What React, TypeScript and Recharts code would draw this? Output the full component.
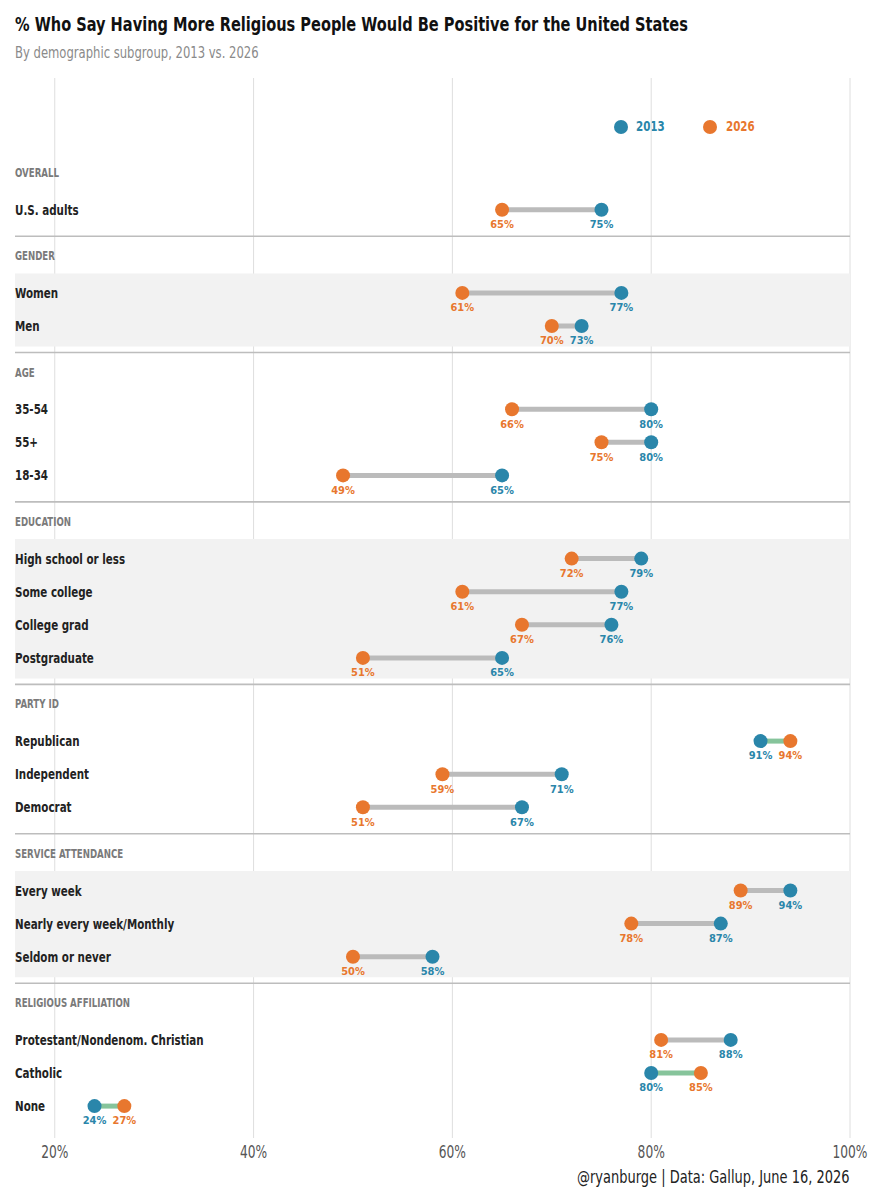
import { ComposedChart, Scatter, XAxis, YAxis, ZAxis, CartesianGrid, ReferenceArea, ReferenceLine, LabelList } from 'recharts'

const groups = ['OVERALL', 'GENDER', 'AGE', 'EDUCATION', 'PARTY ID', 'SERVICE ATTENDANCE', 'RELIGIOUS AFFILIATION']

const subgroups = [
  'U.S. adults',
  'Women', 'Men',
  '35-54', '55+', '18-34',
  'High school or less', 'Some college', 'College grad', 'Postgraduate',
  'Republican', 'Independent', 'Democrat',
  'Every week', 'Nearly every week/Monthly', 'Seldom or never',
  'Protestant/Nondenom. Christian', 'Catholic', 'None',
]

const subgroupGroup = [
  'OVERALL',
  'GENDER', 'GENDER',
  'AGE', 'AGE', 'AGE',
  'EDUCATION', 'EDUCATION', 'EDUCATION', 'EDUCATION',
  'PARTY ID', 'PARTY ID', 'PARTY ID',
  'SERVICE ATTENDANCE', 'SERVICE ATTENDANCE', 'SERVICE ATTENDANCE',
  'RELIGIOUS AFFILIATION', 'RELIGIOUS AFFILIATION', 'RELIGIOUS AFFILIATION',
]

const pct2013 = [75, 77, 73, 80, 80, 65, 79, 77, 76, 65, 91, 71, 67, 94, 87, 58, 88, 80, 24]
const pct2026 = [65, 61, 70, 66, 75, 49, 72, 61, 67, 51, 94, 59, 51, 89, 78, 50, 81, 85, 27]

const xTicks = [20, 40, 60, 80, 100]

const BLUE = '#2A86AA'
const ORANGE = '#E8772E'
const GRAY_SEG = '#BBBBBB'
const GREEN_SEG = '#86C49B'
const FONT = '"DejaVu Sans Condensed", "DejaVu Sans", sans-serif'

// vertical layout, in px below the top of the plot area
const PLOT_H = 1060
const FIRST_HEADER = 95
const HEAD_TO_ITEM = 36.7
const ITEM_STEP = 33.1
const ITEM_TO_SEP = 26.5
const SEP_TO_HEAD = 20

const rowY: number[] = []
const headerY: number[] = []
const seps: number[] = []
const bands: [number, number][] = []
let cursor = FIRST_HEADER
groups.forEach((g, gi) => {
  headerY.push(cursor)
  const idx = subgroups.map((_, i) => i).filter((i) => subgroupGroup[i] === g)
  idx.forEach((i, k) => {
    rowY[i] = cursor + HEAD_TO_ITEM + k * ITEM_STEP
  })
  const first = rowY[idx[0]]
  const last = rowY[idx[idx.length - 1]]
  if (gi % 2 === 1) bands.push([first - 19.5, last + 20.5])
  if (gi < groups.length - 1) {
    seps.push(last + ITEM_TO_SEP)
    cursor = last + ITEM_TO_SEP + SEP_TO_HEAD
  }
})

const yTicks = [...headerY, ...rowY]

const data2013 = subgroups.map((name, i) => ({ name, x: pct2013[i], y: rowY[i] }))
const data2026 = subgroups.map((name, i) => ({ name, x: pct2026[i], y: rowY[i] }))

const YTick = (props: any) => {
  const v = Number(props.payload?.value)
  const hi = headerY.findIndex((h) => Math.abs(h - v) < 0.01)
  if (hi >= 0) {
    return (
      <text transform={`translate(15,${props.y}) scale(0.8,1)`} dy={4} textAnchor="start" fill="#7a7a7a" fontSize={12} fontWeight={700} fontFamily={FONT}>
        {groups[hi]}
      </text>
    )
  }
  const ri = rowY.findIndex((r) => Math.abs(r - v) < 0.01)
  return (
    <text transform={`translate(15,${props.y}) scale(0.82,1)`} dy={5} textAnchor="start" fill="#222" fontSize={14} fontWeight={700} fontFamily={FONT}>
      {subgroups[ri]}
    </text>
  )
}

const XTick = (props: any) => (
  <text transform={`translate(${props.x},${props.y}) scale(0.8,1)`} dy="0.71em" textAnchor="middle" fill="#555" fontSize={17} fontFamily={FONT}>
    {`${props.payload.value}%`}
  </text>
)

const dot = (color: string) => (p: any) => <circle cx={p.cx} cy={p.cy} r={7} fill={color} />

const squeeze = (s: number) => ({ display: 'inline-block', transform: `scaleX(${s})`, transformOrigin: 'left center', whiteSpace: 'nowrap' as const })

export default function App() {
  return (
    <div style={{ position: 'relative', width: 873, height: 1200, fontFamily: FONT, background: '#fff' }}>
      <style>{'body{margin:0}'}</style>
      <div style={{ position: 'absolute', left: 15, top: 12, fontSize: 20, fontWeight: 700, color: '#111', ...squeeze(0.81) }}>
        % Who Say Having More Religious People Would Be Positive for the United States
      </div>
      <div style={{ position: 'absolute', left: 15, top: 44, fontSize: 15, color: '#8a8a8a', ...squeeze(0.86) }}>
        By demographic subgroup, 2013 vs. 2026
      </div>
      <span style={{ position: 'absolute', left: 614, top: 120, width: 14, height: 14, borderRadius: 7, background: BLUE }} />
      <span style={{ position: 'absolute', left: 636, top: 118, fontSize: 14, fontWeight: 700, color: BLUE, ...squeeze(0.82) }}>2013</span>
      <span style={{ position: 'absolute', left: 703, top: 120, width: 14, height: 14, borderRadius: 7, background: ORANGE }} />
      <span style={{ position: 'absolute', left: 726, top: 118, fontSize: 14, fontWeight: 700, color: ORANGE, ...squeeze(0.82) }}>2026</span>
      <ComposedChart width={873} height={1200} margin={{ top: 78, right: 23, left: 14, bottom: 32 }}>
        <CartesianGrid vertical horizontal={false} stroke="#DEDEDE" verticalValues={xTicks} />
        <XAxis
          type="number"
          dataKey="x"
          domain={[16, 100]}
          ticks={xTicks}
          allowDataOverflow
          axisLine={false}
          tickLine={false}
          height={30}
          tick={XTick}
        />
        <YAxis
          type="number"
          dataKey="y"
          domain={[0, PLOT_H]}
          reversed
          allowDataOverflow
          ticks={yTicks}
          interval={0}
          width={1}
          axisLine={false}
          tickLine={false}
          tick={YTick}
        />
        <ZAxis range={[154, 154]} />
        {bands.map(([a, b], i) => (
          <ReferenceArea key={`band-${i}`} x1={16} x2={100} y1={a} y2={b} fill="#F2F2F2" fillOpacity={1} stroke="none" />
        ))}
        {seps.map((s, i) => (
          <ReferenceLine key={`sep-${i}`} y={s} stroke="#BDBDBD" strokeWidth={1.6} />
        ))}
        {subgroups.map((name, i) => (
          <Scatter
            key={`seg-${name}`}
            data={[data2026[i], data2013[i]]}
            line={{ stroke: pct2026[i] > pct2013[i] ? GREEN_SEG : GRAY_SEG, strokeWidth: 5 }}
            shape={() => <g />}
            legendType="none"
            isAnimationActive={false}
          />
        ))}
        <Scatter name="2013" data={data2013} fill={BLUE} shape={dot(BLUE)} isAnimationActive={false}>
          <LabelList dataKey="x" position="bottom" offset={6} formatter={(v: any) => `${v}%`} fill={BLUE} fontSize={11} fontWeight={700} fontFamily={FONT} />
        </Scatter>
        <Scatter name="2026" data={data2026} fill={ORANGE} shape={dot(ORANGE)} isAnimationActive={false}>
          <LabelList dataKey="x" position="bottom" offset={6} formatter={(v: any) => `${v}%`} fill={ORANGE} fontSize={11} fontWeight={700} fontFamily={FONT} />
        </Scatter>
      </ComposedChart>
      <div style={{ position: 'absolute', left: 577, top: 1167, fontSize: 17, color: '#222', ...squeeze(0.85) }}>
        @ryanburge | Data: Gallup, June 16, 2026
      </div>
    </div>
  )
}
